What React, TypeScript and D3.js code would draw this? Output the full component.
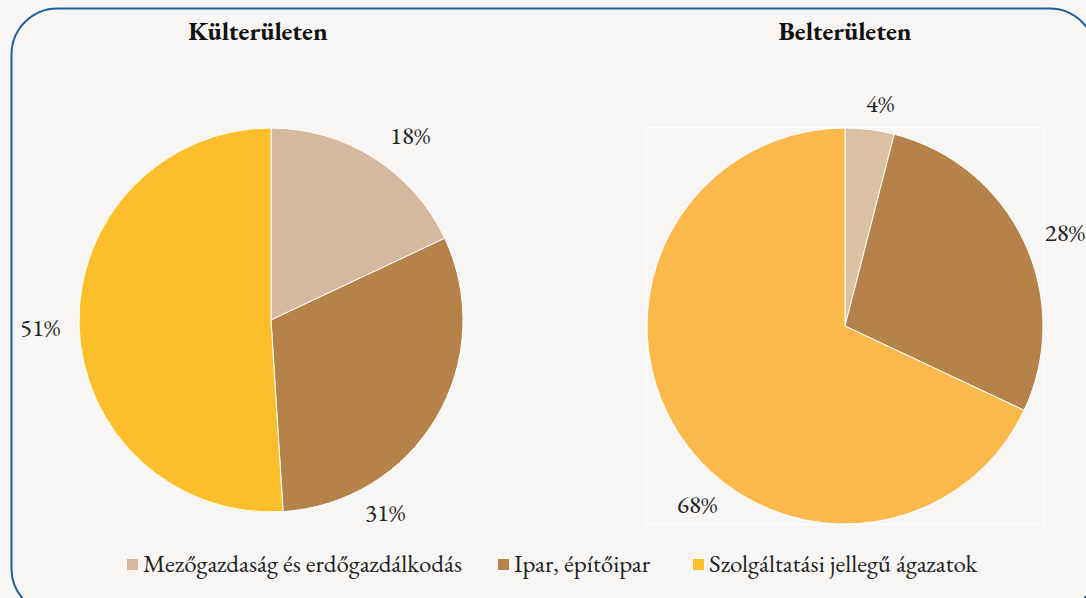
import React, { useEffect, useRef } from "react";
import * as d3 from "d3";

// categories shared by both pies
const categories = [
  "Mezőgazdaság és erdőgazdálkodás",
  "Ipar, építőipar",
  "Szolgáltatási jellegű ágazatok",
];
const kulterValues = [18, 31, 51];
const belterValues = [4, 28, 68];
const titles = ["Külterületen", "Belterületen"];

const kulterColors = ["#d6b89e", "#b5834a", "#fdbe2c"];
const belterColors = ["#dbc0a1", "#b5834a", "#fbb94c"];

const FONT = "'EB Garamond', Garamond, 'Liberation Serif', serif";

export default function App() {
  const ref = useRef<SVGSVGElement>(null);

  useEffect(() => {
    const svg = d3.select(ref.current);
    svg.selectAll("*").remove();
    const width = 1086;
    const height = 598;
    svg.attr("width", width).attr("height", height);

    svg.append("rect").attr("width", width).attr("height", height).attr("fill", "#f7f6f4");

    // rounded frame, partly cut off at right and bottom
    svg
      .append("rect")
      .attr("x", 11.5)
      .attr("y", 8.5)
      .attr("width", 1084)
      .attr("height", 606)
      .attr("rx", 46)
      .attr("fill", "none")
      .attr("stroke", "#1f5f9e")
      .attr("stroke-width", 2);

    const pies = [
      { values: kulterValues, colors: kulterColors, cx: 271, cy: 320, r: 192, titleX: 258, labelR: [231, 224, 231], nudge: [4.6, 28.8, -0.2], frame: false },
      { values: belterValues, colors: belterColors, cx: 845, cy: 326, r: 198, titleX: 845, labelR: [225, 239, 232], nudge: [1.8, 2.2, -18], frame: true },
    ];

    pies.forEach((p, pi) => {
      const g = svg.append("g").attr("transform", `translate(${p.cx},${p.cy})`);

      if (p.frame) {
        g.append("rect")
          .attr("x", -p.r - 0.5)
          .attr("y", -p.r - 0.5)
          .attr("width", p.r * 2 + 1)
          .attr("height", p.r * 2 + 1)
          .attr("fill", "none")
          .attr("stroke", "#ffffff")
          .attr("stroke-width", 1);
      }

      const pie = d3.pie<number>().sort(null).value((d) => d);
      const arcs = pie(p.values);
      const arc = d3.arc<d3.PieArcDatum<number>>().innerRadius(0).outerRadius(p.r);

      g.selectAll("path")
        .data(arcs)
        .enter()
        .append("path")
        .attr("d", arc)
        .attr("fill", (d, i) => p.colors[i])
        .attr("stroke", "#ffffff")
        .attr("stroke-width", 1);

      const labelPos = (d: d3.PieArcDatum<number>, i: number) => {
        const a = (d.startAngle + d.endAngle) / 2 + (p.nudge[i] * Math.PI) / 180;
        return [Math.sin(a) * p.labelR[i], -Math.cos(a) * p.labelR[i]];
      };

      g.selectAll("text.lbl")
        .data(arcs)
        .enter()
        .append("text")
        .attr("class", "lbl")
        .attr("x", (d, i) => labelPos(d, i)[0])
        .attr("y", (d, i) => labelPos(d, i)[1] + 8)
        .attr("text-anchor", "middle")
        .style("font-family", FONT)
        .style("font-size", "25px")
        .attr("fill", "#222")
        .text((d) => `${d.data}%`);

      svg
        .append("text")
        .attr("x", p.titleX)
        .attr("y", 40)
        .attr("text-anchor", "middle")
        .style("font-family", FONT)
        .style("font-weight", "bold")
        .style("font-size", "26px")
        .attr("fill", "#111")
        .text(titles[pi]);
    });

    // legend
    const legendX = [127, 498, 693];
    const lg = svg.append("g");
    categories.forEach((c, i) => {
      lg.append("rect")
        .attr("x", legendX[i])
        .attr("y", 559)
        .attr("width", 11)
        .attr("height", 11)
        .attr("fill", kulterColors[i]);
      lg.append("text")
        .attr("x", legendX[i] + 16)
        .attr("y", 572)
        .style("font-family", FONT)
        .style("font-size", "25px")
        .attr("fill", "#222")
        .text(c);
    });
  }, []);

  return (
    <div style={{ position: "absolute", left: 0, top: 0 }}>
      <svg ref={ref} style={{ display: "block" }}></svg>
    </div>
  );
}
